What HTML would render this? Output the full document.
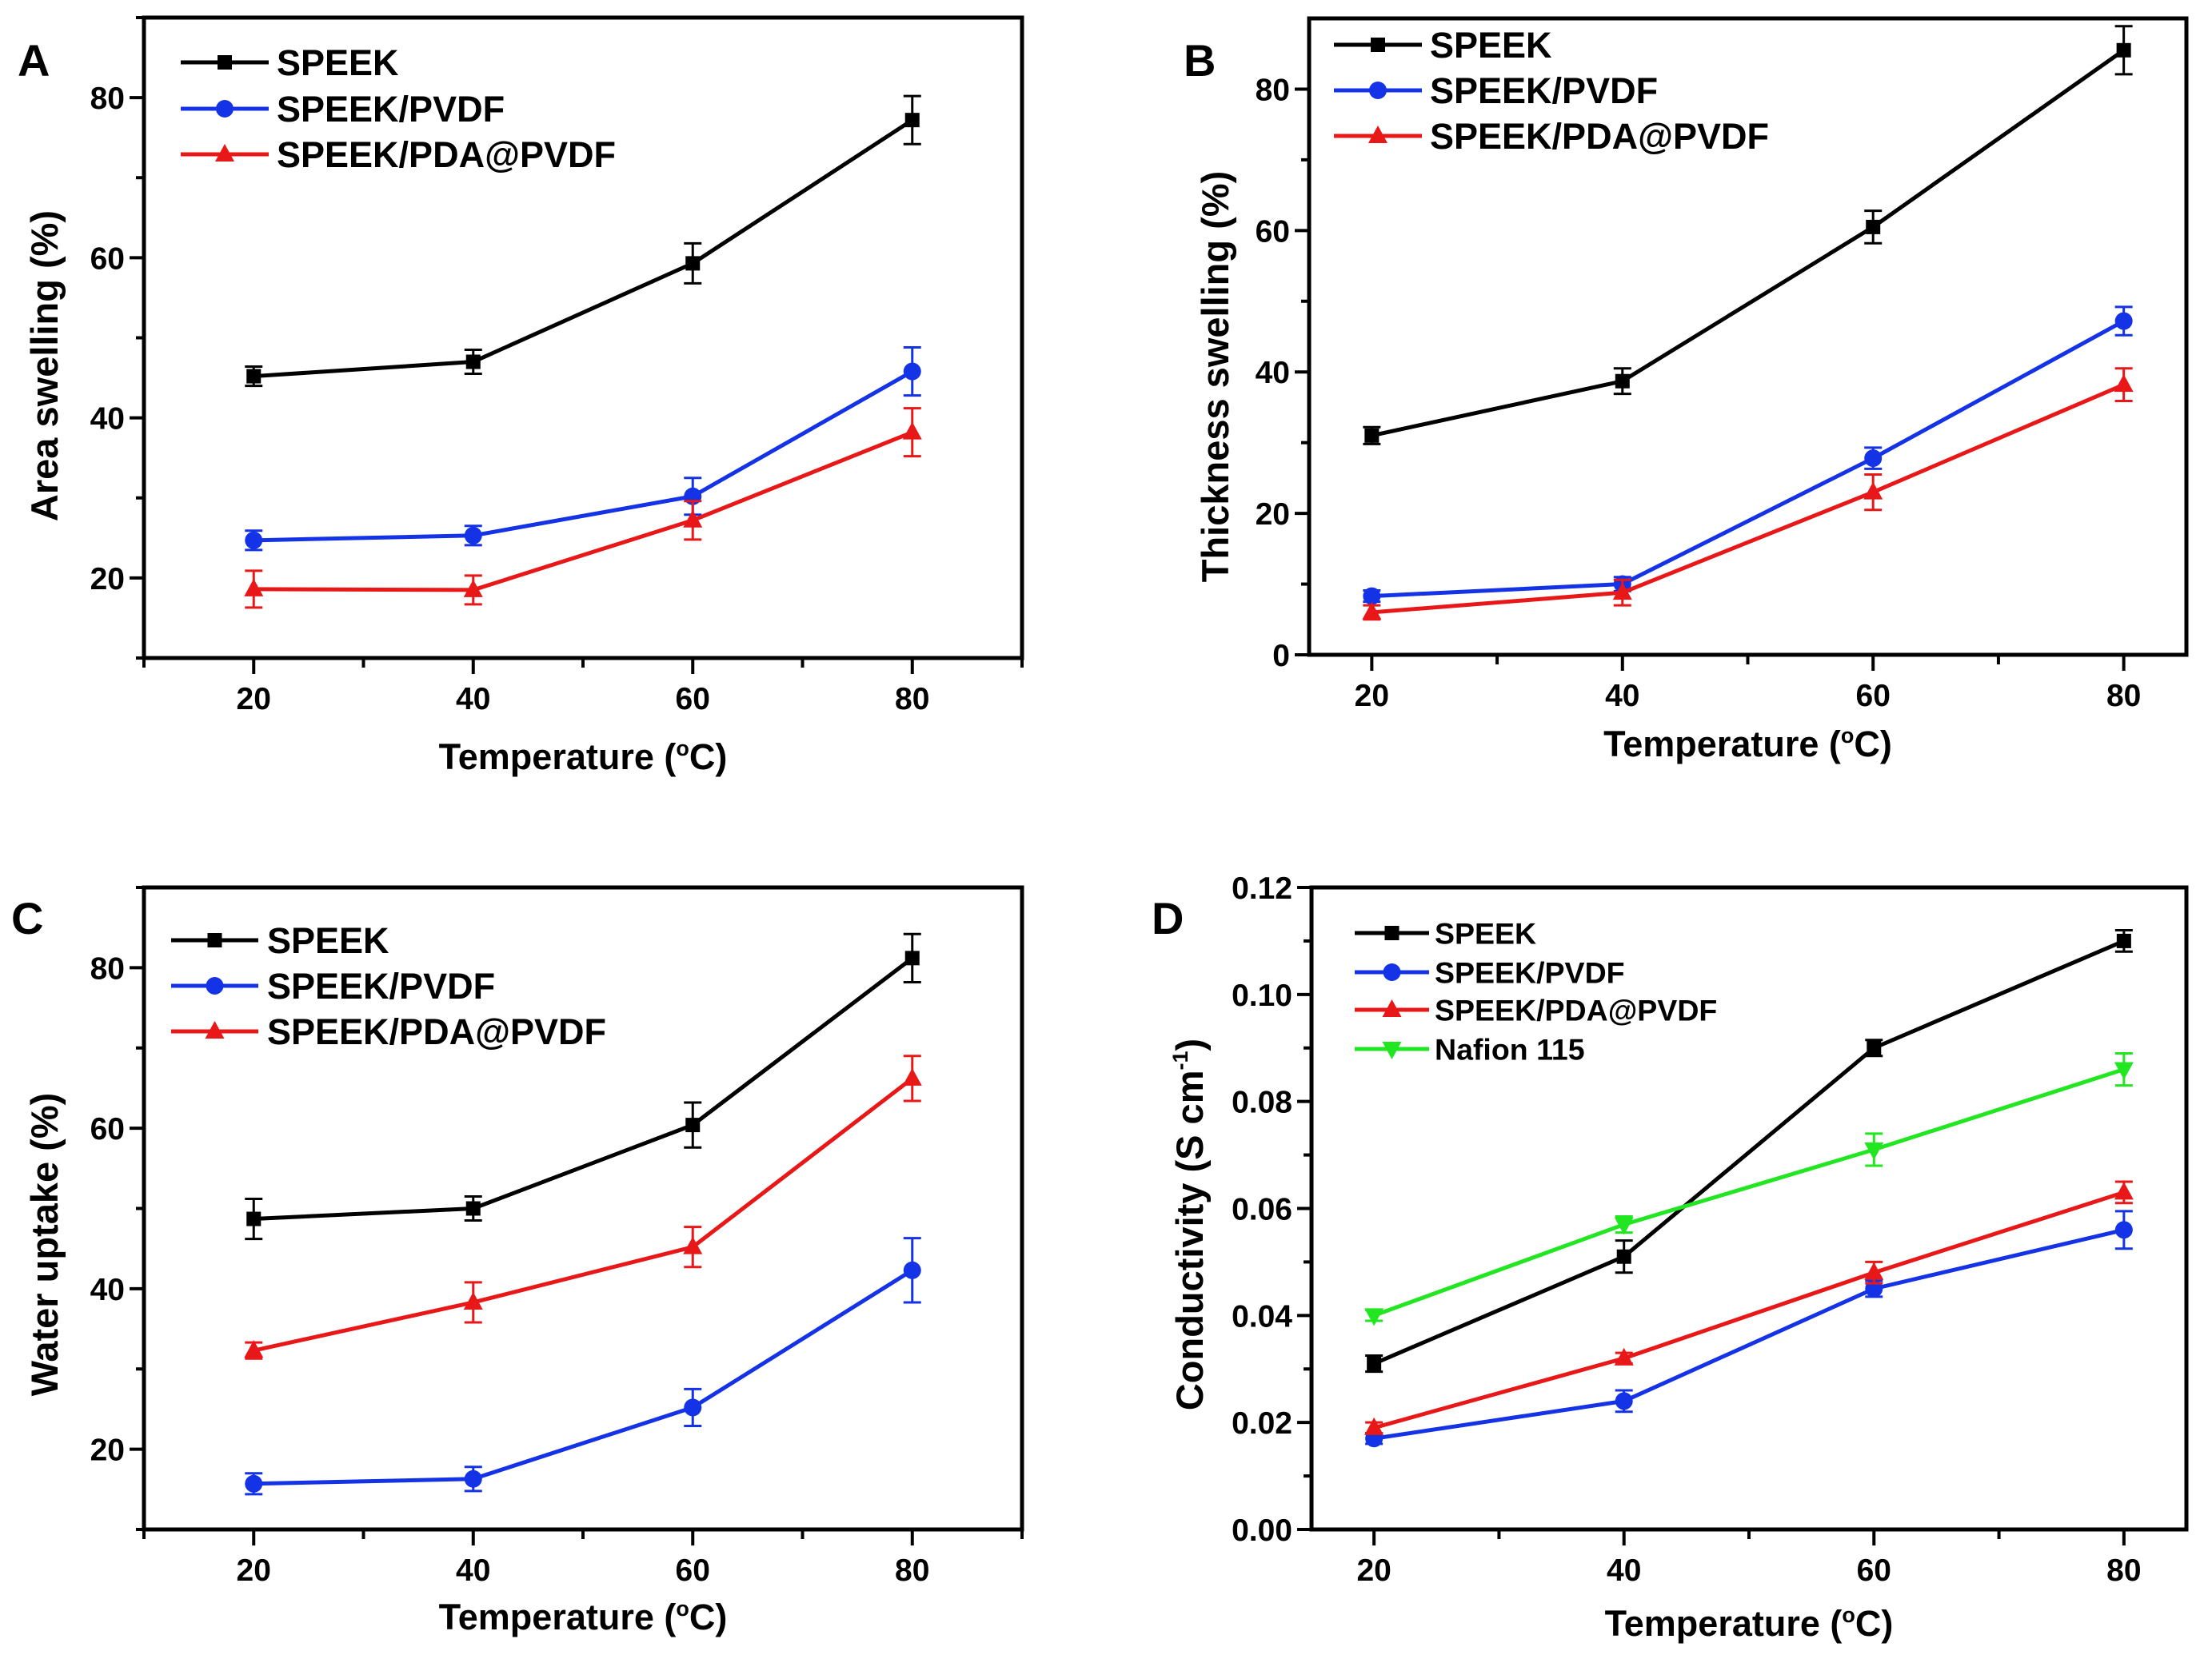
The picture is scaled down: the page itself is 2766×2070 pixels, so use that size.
<!DOCTYPE html>
<html><head><meta charset="utf-8"><style>
html,body{margin:0;padding:0;background:#fff;}
svg{display:block;font-family:"Liberation Sans",Arial,sans-serif;font-weight:bold;}
</style></head>
<body>
<svg id="fig" width="2766" height="2070" viewBox="0 0 2766 2070" xmlns="http://www.w3.org/2000/svg"></svg>
<script>
const temps = [20, 40, 60, 80];
const seriesNames = ["SPEEK", "SPEEK/PVDF", "SPEEK/PDA@PVDF", "Nafion 115"];
// Panel A: area swelling (%)
const aSpeek = [45.2, 47.0, 59.3, 77.2];
const aSpeekErr = [1.2, 1.5, 2.5, 3.0];
const aPvdf = [24.7, 25.3, 30.2, 45.8];
const aPvdfErr = [1.2, 1.2, 2.3, 3.0];
const aPda = [18.6, 18.5, 27.2, 38.2];
const aPdaErr = [2.3, 1.8, 2.4, 3.0];
// Panel B: thickness swelling (%)
const bSpeek = [31.0, 38.7, 60.5, 85.5];
const bSpeekErr = [1.2, 1.8, 2.3, 3.4];
const bPvdf = [8.3, 10.0, 27.8, 47.2];
const bPvdfErr = [0.8, 1.0, 1.5, 2.0];
const bPda = [6.0, 8.8, 23.0, 38.2];
const bPdaErr = [1.0, 1.8, 2.5, 2.3];
// Panel C: water uptake (%)
const cSpeek = [48.7, 50.0, 60.4, 81.2];
const cSpeekErr = [2.5, 1.5, 2.8, 3.0];
const cPvdf = [15.7, 16.3, 25.2, 42.3];
const cPvdfErr = [1.3, 1.5, 2.3, 4.0];
const cPda = [32.3, 38.3, 45.2, 66.2];
const cPdaErr = [1.0, 2.5, 2.5, 2.8];
// Panel D: conductivity (S cm-1)
const dSpeek = [0.031, 0.051, 0.090, 0.110];
const dSpeekErr = [0.0015, 0.003, 0.0015, 0.002];
const dPvdf = [0.017, 0.024, 0.045, 0.056];
const dPvdfErr = [0.001, 0.002, 0.0015, 0.0035];
const dPda = [0.019, 0.032, 0.048, 0.063];
const dPdaErr = [0.001, 0.001, 0.002, 0.002];
const dNafion = [0.040, 0.057, 0.071, 0.086];
const dNafionErr = [0.001, 0.0015, 0.003, 0.003];
// Tick labels
const xTickLabels = ["20", "40", "60", "80"];
const pctTickLabels = ["20", "40", "60", "80"];
const bTickLabels = ["0", "20", "40", "60", "80"];
const dTickLabels = ["0.00", "0.02", "0.04", "0.06", "0.08", "0.10", "0.12"];

const NS = "http://www.w3.org/2000/svg";
const fig = document.getElementById("fig");
const COL = {SPEEK:"#000000", "SPEEK/PVDF":"#1432e6", "SPEEK/PDA@PVDF":"#e81818", "Nafion 115":"#22e622"};
const MK = {SPEEK:"square", "SPEEK/PVDF":"circle", "SPEEK/PDA@PVDF":"tri", "Nafion 115":"tridown"};

function el(tag, attrs, parent) {
  const e = document.createElementNS(NS, tag);
  for (const k in attrs) e.setAttribute(k, attrs[k]);
  (parent || fig).appendChild(e);
  return e;
}
function txt(str, attrs, parent) { const t = el("text", attrs, parent); t.textContent = str; return t; }

function marker(g, type, cx, cy, color) {
  let m;
  if (type === "square") m = el("rect", {x: cx-9, y: cy-9, width: 18, height: 18, fill: color}, g);
  else if (type === "circle") m = el("circle", {cx: cx, cy: cy, r: 11, fill: color}, g);
  else if (type === "tri") m = el("polygon", {points: `${cx},${cy-13} ${cx+12},${cy+9} ${cx-12},${cy+9}`, fill: color}, g);
  else m = el("polygon", {points: `${cx},${cy+13} ${cx+12},${cy-9} ${cx-12},${cy-9}`, fill: color}, g);
  return m;
}

function panel(cfg) {
  const g = el("g", {});
  
  
  const L = cfg.box[0], T = cfg.box[1], R = cfg.box[2], B = cfg.box[3];
  const xs = v => L + (v - cfg.xr[0]) / (cfg.xr[1] - cfg.xr[0]) * (R - L);
  const ys = v => B - (v - cfg.yr[0]) / (cfg.yr[1] - cfg.yr[0]) * (B - T);
  cfg.series.forEach(s => {
    const sg = el("g", {}, g);
    
    
    const c = COL[s.label];
    const pts = temps.map((t, i) => xs(t) + "," + ys(s.v[i])).join(" ");
    const pl = el("polyline", {points: pts, fill: "none", stroke: c, "stroke-width": 5, "stroke-linejoin": "round"}, sg);
    
    
    temps.forEach((t, i) => {
      const x = xs(t), y1 = ys(s.v[i] + s.e[i]), y2 = ys(s.v[i] - s.e[i]);
      const eb = el("path", {d: `M${x-11},${y1}H${x+11}M${x},${y1}V${y2}M${x-11},${y2}H${x+11}`, stroke: c, "stroke-width": 3, fill: "none"}, sg);
      
      
      const m = marker(sg, MK[s.label], x, ys(s.v[i]), c);
      
      
    });
  });
  const fr = el("rect", {x: L, y: T, width: R - L, height: B - T, fill: "none", stroke: "#000", "stroke-width": 5}, g);
  
  
  for (let v = cfg.xMinorStart; v <= cfg.xr[1] + 1e-9; v += 10) {
    const major = v % 20 === 0;
    el("line", {x1: xs(v), x2: xs(v), y1: B, y2: B + (major ? 20 : 12), stroke: "#000", "stroke-width": 4}, g);
  }
  temps.forEach((t, i) => {
    const tl = txt(xTickLabels[i], {x: xs(t), y: B + 64, "text-anchor": "middle", "font-size": 39}, g);
    
    
  });
  cfg.yTicks.forEach((v, i) => {
    el("line", {x1: L - 18, x2: L, y1: ys(v), y2: ys(v), stroke: "#000", "stroke-width": 4}, g);
    const tl = txt(cfg.yLabels[i], {x: L - 24, y: ys(v) + 14, "text-anchor": "end", "font-size": 39}, g);
    
    
  });
  cfg.yMinor.forEach(v => el("line", {x1: L - 10, x2: L, y1: ys(v), y2: ys(v), stroke: "#000", "stroke-width": 4}, g));
  const xt = txt("Temperature (", {x: (L + R) / 2, y: cfg.xTitleY, "text-anchor": "middle", "font-size": 45}, g);
  
  
  const sup = el("tspan", {"font-size": 27, dy: -17}, xt); sup.textContent = "o";
  const rest = el("tspan", {dy: 17}, xt); rest.textContent = "C)";
  const yt = txt(cfg.yTitle, {x: 0, y: 0, "text-anchor": "middle", "font-size": 47, transform: `translate(${cfg.yTitleX},${(T + B) / 2 + cfg.yTitleShift}) rotate(-90)`}, g);
  
  
  if (cfg.yTitleSup) {
    const s1 = el("tspan", {"font-size": 27, dy: -19}, yt); s1.textContent = "-1";
    const s2 = el("tspan", {dy: 19}, yt); s2.textContent = ")";
  }
  const pl = txt(cfg.letter, {x: cfg.letterPos[0], y: cfg.letterPos[1], "font-size": 56}, g);
  
  
  const lg = el("g", {}, g);
  
  
  cfg.series.forEach((s, i) => {
    const y = cfg.leg.rows[i];
    const eg = el("g", {}, lg);
    
    
    const c = COL[s.label];
    el("line", {x1: cfg.leg.x1, x2: cfg.leg.x2, y1: y, y2: y, stroke: c, "stroke-width": 5}, eg);
    marker(eg, MK[s.label], (cfg.leg.x1 + cfg.leg.x2) / 2, y, c);
    txt(s.label, {x: cfg.leg.tx, y: y + cfg.leg.fs * 0.36, "font-size": cfg.leg.fs}, eg);
  });
}

panel({name: "panel-a-area-swelling", box: [180, 22, 1278, 823], xr: [10, 90], yr: [10, 90], xMinorStart: 10,
  yTicks: [20, 40, 60, 80], yLabels: pctTickLabels, yMinor: [10, 30, 50, 70, 90],
  series: [{label: seriesNames[0], v: aSpeek, e: aSpeekErr}, {label: seriesNames[1], v: aPvdf, e: aPvdfErr}, {label: seriesNames[2], v: aPda, e: aPdaErr}],
  xTitleY: 962, yTitle: "Area swelling (%)", yTitleX: 72, yTitleShift: 35, letter: "A", letterPos: [22, 95],
  leg: {x1: 226, x2: 336, tx: 346, fs: 45, rows: [78, 136, 193]}});

panel({name: "panel-b-thickness-swelling", box: [1637, 23, 2734, 819], xr: [15, 85], yr: [0, 90], xMinorStart: 20,
  yTicks: [0, 20, 40, 60, 80], yLabels: bTickLabels, yMinor: [10, 30, 50, 70],
  series: [{label: seriesNames[0], v: bSpeek, e: bSpeekErr}, {label: seriesNames[1], v: bPvdf, e: bPvdfErr}, {label: seriesNames[2], v: bPda, e: bPdaErr}],
  xTitleY: 946, yTitle: "Thickness swelling (%)", yTitleX: 1536, yTitleShift: 50, letter: "B", letterPos: [1480, 95],
  leg: {x1: 1668, x2: 1778, tx: 1788, fs: 45, rows: [56, 113, 170]}});

panel({name: "panel-c-water-uptake", box: [180, 1110, 1278, 1913], xr: [10, 90], yr: [10, 90], xMinorStart: 10,
  yTicks: [20, 40, 60, 80], yLabels: pctTickLabels, yMinor: [10, 30, 50, 70, 90],
  series: [{label: seriesNames[0], v: cSpeek, e: cSpeekErr}, {label: seriesNames[1], v: cPvdf, e: cPvdfErr}, {label: seriesNames[2], v: cPda, e: cPdaErr}],
  xTitleY: 2038, yTitle: "Water uptake (%)", yTitleX: 72, yTitleShift: 45, letter: "C", letterPos: [14, 1168],
  leg: {x1: 214, x2: 323, tx: 334, fs: 45, rows: [1176, 1233, 1290]}});

panel({name: "panel-d-conductivity", box: [1640, 1110, 2734, 1913], xr: [15, 85], yr: [0, 0.12], xMinorStart: 20,
  yTicks: [0, 0.02, 0.04, 0.06, 0.08, 0.10, 0.12], yLabels: dTickLabels, yMinor: [0.01, 0.03, 0.05, 0.07, 0.09, 0.11],
  series: [{label: seriesNames[0], v: dSpeek, e: dSpeekErr}, {label: seriesNames[1], v: dPvdf, e: dPvdfErr}, {label: seriesNames[2], v: dPda, e: dPdaErr}, {label: seriesNames[3], v: dNafion, e: dNafionErr}],
  xTitleY: 2046, yTitle: "Conductivity (S cm", yTitleSup: true, yTitleX: 1504, yTitleShift: 20, letter: "D", letterPos: [1440, 1168],
  leg: {x1: 1694, x2: 1787, tx: 1794, fs: 37.5, rows: [1167, 1216, 1263, 1312]}});
</script>
</body></html>
